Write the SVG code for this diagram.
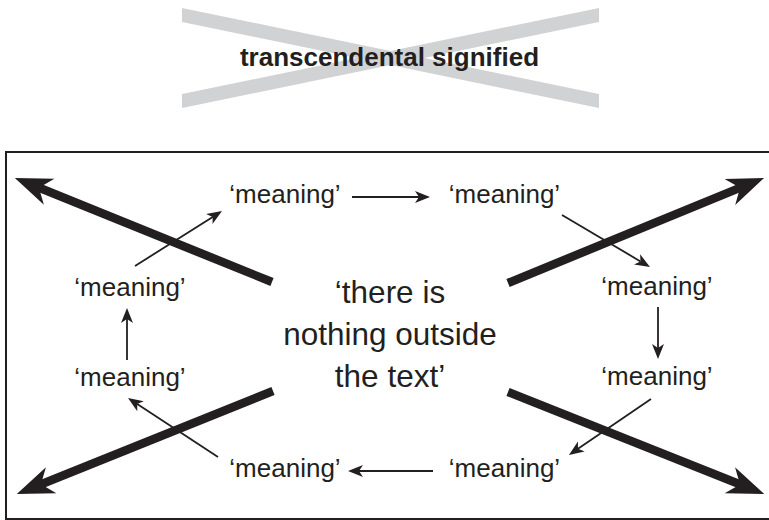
<svg xmlns="http://www.w3.org/2000/svg" width="769" height="520" viewBox="0 0 769 520">
<style>
.t{font-family:"Liberation Sans",Arial,sans-serif;fill:#231f20;text-anchor:middle}
.m{font-size:26px}
.c{font-size:31.5px}
.thin{stroke:#231f20;stroke-width:1.8;fill:none;marker-end:url(#ah)}
.thick{stroke:#231f20;stroke-width:8.5;fill:none;marker-end:url(#AH)}
.x{fill:#d1d2d4}
</style>
<defs>
<marker id="ah" markerUnits="userSpaceOnUse" markerWidth="18" markerHeight="14" viewBox="0 -7 18 14" refX="4" refY="0" orient="auto">
<path d="M0,-6 L15,0 L0,6 L4,0 Z" fill="#231f20"/>
</marker>
<marker id="AH" markerUnits="userSpaceOnUse" markerWidth="42" markerHeight="32" viewBox="0 -16 42 32" refX="12" refY="0" orient="auto">
<path d="M0,-14 L37,0 L0,14 L11,0 Z" fill="#231f20"/>
</marker>
</defs>
<rect width="769" height="520" fill="#fff"/>
<g id="transcendental">
<polygon class="x" points="182,8 599,94 599,108 182,22"/>
<polygon class="x" points="182,94 599,8 599,22 182,108"/>
<text class="t" x="389.5" y="66" font-size="26" font-weight="bold">transcendental signified</text>
</g>
<g id="frame">
<path d="M775,152 H6 V519 H775" fill="none" stroke="#231f20" stroke-width="2"/>
</g>
<g id="connectors">
<line class="thick" x1="272" y1="282" x2="38" y2="187.3"/>
<line class="thick" x1="508" y1="283" x2="741" y2="187.4"/>
<line class="thick" x1="273" y1="391" x2="40" y2="484.7"/>
<line class="thick" x1="508" y1="392" x2="741" y2="484.8"/>
<line class="thin" x1="352" y1="197" x2="419" y2="197"/>
<line class="thin" x1="562" y1="215" x2="640.5" y2="261.4"/>
<line class="thin" x1="658" y1="307" x2="658" y2="348"/>
<line class="thin" x1="651" y1="399" x2="578" y2="448.8"/>
<line class="thin" x1="433" y1="471" x2="359" y2="471"/>
<line class="thin" x1="218" y1="457" x2="137.2" y2="404"/>
<line class="thin" x1="127" y1="360" x2="127" y2="319"/>
<line class="thin" x1="135" y1="266" x2="212.7" y2="216.9"/>
</g>
<g id="m-top-left"><text class="t m" x="285" y="203">‘meaning’</text></g>
<g id="m-top-right"><text class="t m" x="504.5" y="203">‘meaning’</text></g>
<g id="m-right-upper"><text class="t m" x="657" y="295">‘meaning’</text></g>
<g id="m-right-lower"><text class="t m" x="657" y="385">‘meaning’</text></g>
<g id="m-bottom-right"><text class="t m" x="504.5" y="477">‘meaning’</text></g>
<g id="m-bottom-left"><text class="t m" x="285" y="477">‘meaning’</text></g>
<g id="m-left-lower"><text class="t m" x="130" y="386">‘meaning’</text></g>
<g id="m-left-upper"><text class="t m" x="130" y="296">‘meaning’</text></g>
<g id="center">
<text class="t c" x="390" y="303">‘there is</text>
<text class="t c" x="390" y="345">nothing outside</text>
<text class="t c" x="390" y="387">the text’</text>
</g>
</svg>
